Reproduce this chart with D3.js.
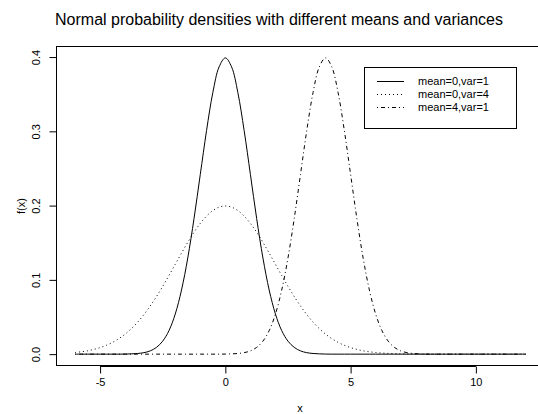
<!DOCTYPE html>
<html>
<head>
<meta charset="utf-8">
<script src="https://cdn.jsdelivr.net/npm/d3@7"></script>
<style>
html,body{margin:0;padding:0;background:#fff;}
svg{display:block;font-family:"Liberation Sans",Arial,sans-serif;}
</style>
</head>
<body>
<div id="chart"></div>
<script>
const titleText = "Normal probability densities with different means and variances";
const xLabel = "x";
const yLabel = "f(x)";
const xTicks = [-5, 0, 5, 10];
const yTicks = [0.0, 0.1, 0.2, 0.3, 0.4];
const yTickLabels = ["0.0", "0.1", "0.2", "0.3", "0.4"];
const seriesNames = ["mean=0,var=1", "mean=0,var=4", "mean=4,var=1"];

const xs = [-6,-5.75,-5.5,-5.25,-5,-4.75,-4.5,-4.25,-4,-3.75,-3.5,-3.25,-3,-2.75,-2.5,-2.25,-2,-1.75,-1.5,-1.25,-1,-0.75,-0.5,-0.25,
0,0.25,0.5,0.75,1,1.25,1.5,1.75,2,2.25,2.5,2.75,3,3.25,3.5,3.75,4,4.25,4.5,4.75,5,5.25,5.5,5.75,6,6.25,6.5,6.75,7,7.25,7.5,7.75,8,
8.25,8.5,8.75,9,9.25,9.5,9.75,10,10.25,10.5,10.75,11,11.25,11.5,11.75,12];

const mean0var1 = [0,0,0,0,0,0,0,0,
0.0001,0.0004,0.0009,0.0020,0.0044,0.0091,0.0175,0.0317,0.0540,0.0863,0.1295,0.1826,0.2420,0.3011,0.3521,0.3867,
0.3989,
0.3867,0.3521,0.3011,0.2420,0.1826,0.1295,0.0863,0.0540,0.0317,0.0175,0.0091,0.0044,0.0020,0.0009,0.0004,0.0001,
0,0,0,0,0,0,0,0,0,0,0,0,0,0,0,0,0,0,0,0,0,0,0,0,0,0,0,0,0,0,0,0];

const mean0var4 = [0.0022,0.0032,0.0045,0.0064,0.0088,0.0119,0.0159,0.0209,0.0270,0.0344,0.0431,0.0533,0.0648,0.0775,0.0913,0.1059,
0.1210,0.1360,0.1506,0.1641,0.1760,0.1859,0.1933,0.1979,
0.1995,
0.1979,0.1933,0.1859,0.1760,0.1641,0.1506,0.1360,0.1210,0.1059,0.0913,0.0775,0.0648,0.0533,0.0431,0.0344,0.0270,
0.0209,0.0159,0.0119,0.0088,0.0064,0.0045,0.0032,0.0022,
0.0015,0.0010,0.0007,0.0004,0.0003,0.0002,0.0001,0.0001,
0,0,0,0,0,0,0,0,0,0,0,0,0,0,0,0];

const mean4var1 = [0,0,0,0,0,0,0,0,0,0,0,0,0,0,0,0,0,0,0,0,0,0,0,0,
0.0001,0.0004,0.0009,0.0020,0.0044,0.0091,0.0175,0.0317,0.0540,0.0863,0.1295,0.1826,0.2420,0.3011,0.3521,0.3867,
0.3989,
0.3867,0.3521,0.3011,0.2420,0.1826,0.1295,0.0863,0.0540,0.0317,0.0175,0.0091,0.0044,0.0020,0.0009,0.0004,0.0001,
0,0,0,0,0,0,0,0,0,0,0,0,0,0,0,0];

const seriesValues = [mean0var1, mean0var4, mean4var1];
const dashes = [null, "1 3", "1 3 4 3"];

const W = 538, H = 414;
const svg = d3.select("#chart").append("svg").attr("width", W).attr("height", H);

const x = d3.scaleLinear().domain([-6.72, 12.72]).range([57, 544]);
const y = d3.scaleLinear().domain([-0.01596, 0.41489]).range([366, 46]);

// lines
const line = d3.line().x(d => x(d[0])).y(d => y(d[1])).curve(d3.curveCatmullRom);
seriesValues.forEach((vals, i) => {
  const pts = xs.map((xv, j) => [xv, vals[j]]);
  const p = svg.append("path").datum(pts).attr("d", line)
    .attr("fill", "none").attr("stroke", "#000").attr("stroke-width", 1);
  if (dashes[i]) p.attr("stroke-dasharray", dashes[i]);
});

// box
svg.append("rect").attr("x", 56.5).attr("y", 46.5).attr("width", 487).attr("height", 319)
  .attr("fill", "none").attr("stroke", "#000").attr("stroke-width", 1);

// x axis
const xAxis = d3.axisBottom(x).tickValues(xTicks).tickSize(7).tickPadding(5).tickFormat(d3.format("d"));
const gx = svg.append("g").attr("transform", "translate(0,366.5)").call(xAxis);
gx.select(".domain").attr("d", `M${x(-5)},0H${x(10)}`);
gx.selectAll("text").attr("font-family", "Liberation Sans, Arial, sans-serif").attr("font-size", 11)
  .attr("fill", "#000").text(d => d < 0 ? "-" + Math.abs(d) : d);
gx.selectAll("line").attr("stroke", "#000");
gx.select(".domain").attr("stroke", "#000");

// y axis
const yAxis = d3.axisLeft(y).tickValues(yTicks).tickSize(7).tickFormat((d, i) => yTickLabels[i]);
const gy = svg.append("g").attr("transform", "translate(56.5,0)").call(yAxis);
gy.select(".domain").attr("d", `M0,${y(0)}V${y(0.4)}`).attr("stroke", "#000");
gy.selectAll("line").attr("stroke", "#000");
gy.selectAll(".tick text").attr("font-family", "Liberation Sans, Arial, sans-serif").attr("font-size", 11)
  .attr("fill", "#000").attr("x", null).attr("dy", null)
  .attr("text-anchor", "middle")
  .attr("transform", "translate(-17,0) rotate(-90)");

// title and labels
svg.append("text").attr("x", 279).attr("y", 25).attr("text-anchor", "middle")
  .attr("font-size", 16).attr("fill", "#000").text(titleText);
svg.append("text").attr("x", 300).attr("y", 412).attr("text-anchor", "middle")
  .attr("font-size", 11).attr("fill", "#000").text(xLabel);
svg.append("text").attr("transform", `translate(25,${(46+366)/2}) rotate(-90)`).attr("text-anchor", "middle")
  .attr("font-size", 11).attr("fill", "#000").text(yLabel);

// legend
const lg = svg.append("g");
lg.append("rect").attr("x", 364.5).attr("y", 67.5).attr("width", 152).attr("height", 61)
  .attr("fill", "#fff").attr("stroke", "#000").attr("stroke-width", 1);
const rowY = [81.5, 94.5, 107.5];
seriesNames.forEach((nm, i) => {
  const l = lg.append("line").attr("x1", 377).attr("x2", 404).attr("y1", rowY[i]).attr("y2", rowY[i])
    .attr("stroke", "#000").attr("stroke-width", 1);
  if (dashes[i]) l.attr("stroke-dasharray", dashes[i]);
  lg.append("text").attr("x", 418).attr("y", rowY[i]).attr("dy", "0.35em")
    .attr("font-size", 11).attr("fill", "#000").text(nm);
});
</script>
</body>
</html>
